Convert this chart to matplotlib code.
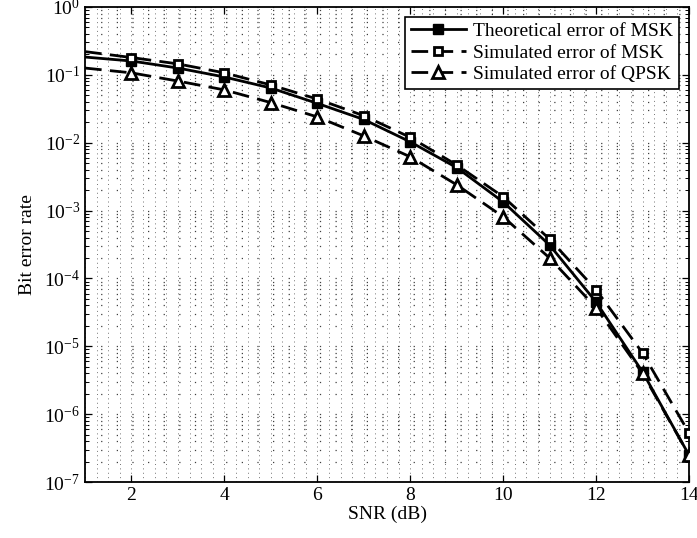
import matplotlib
matplotlib.use("Agg")
import matplotlib.pyplot as plt
from matplotlib.ticker import MultipleLocator, LogLocator, NullFormatter

plt.rcParams['font.family'] = ['Liberation Serif', 'DejaVu Serif']
plt.rcParams['mathtext.fontset'] = 'custom'
plt.rcParams['mathtext.rm'] = 'Liberation Serif'
plt.rcParams['mathtext.it'] = 'Liberation Serif:italic'
plt.rcParams['font.size'] = 14

# SNR axis (dB)
snr = [1, 2, 3, 4, 5, 6, 7, 8, 9, 10, 11, 12, 13, 14]

# bit error rates
ber_msk_theory = [0.183, 0.16, 0.126, 0.093, 0.064, 0.038, 0.022, 0.0103,
                  0.0043, 0.00134, 3.1e-4, 4.5e-5, 4.2e-6, 2.5e-7]
ber_msk_sim = [0.22, 0.18, 0.145, 0.107, 0.071, 0.044, 0.025, 0.012,
               0.0047, 0.0016, 3.8e-4, 6.8e-5, 8.0e-6, 5.3e-7]
ber_qpsk_sim = [0.126, 0.107, 0.081, 0.060, 0.039, 0.024, 0.0126, 0.0062,
                0.0024, 8.1e-4, 2.0e-4, 3.7e-5, 4.0e-6, 2.5e-7]

labels = ["Theoretical error of MSK", "Simulated error of MSK",
          "Simulated error of QPSK"]

fig = plt.figure(figsize=(6.97, 5.38), dpi=100)
ax = fig.add_axes([0.122, 0.104, 0.8665, 0.883])

marks = slice(1, None)
ax.semilogy(snr, ber_msk_theory, color='black', lw=2.0, ls='-',
            marker='s', ms=7.5, mfc='black', mec='black', markevery=marks,
            label=labels[0], zorder=3)
ax.semilogy(snr, ber_msk_sim, color='black', lw=2.0, ls='--', dashes=(6, 3),
            marker='s', ms=5.5, mfc='white', mec='black', mew=2.0,
            markevery=marks, label=labels[1], zorder=3)
ax.semilogy(snr, ber_qpsk_sim, color='black', lw=2.0, ls='--', dashes=(6, 3),
            marker='^', ms=8, mfc='white', mec='black', mew=2.0,
            markevery=marks, label=labels[2], zorder=3)

ax.set_xlim(1, 14)
ax.set_ylim(1e-7, 1)
ax.xaxis.set_major_locator(MultipleLocator(2))
ax.xaxis.set_minor_locator(MultipleLocator(0.25))
ax.yaxis.set_major_locator(LogLocator(base=10, numticks=20))
ax.yaxis.set_minor_locator(LogLocator(base=10, subs=range(2, 10), numticks=20))
ax.yaxis.set_minor_formatter(NullFormatter())

# sparse dotted grid like the printed MATLAB figure
ax.grid(True, axis='x', which='both', lw=0.7, color='black',
        dashes=(1, 3.5), alpha=0.55)
ax.grid(True, axis='y', which='both', lw=0.9, color='black',
        dashes=(1, 11.5), alpha=0.75)
ax.tick_params(which='both', direction='in', top=True, right=True)
ax.tick_params(which='major', length=5, width=0.9)
ax.tick_params(axis='y', which='minor', length=3, width=0.7)
ax.tick_params(axis='x', which='minor', length=0)
for sp in ax.spines.values():
    sp.set_linewidth(1.3)

ax.set_xlabel("SNR (dB)", labelpad=1)
ax.set_ylabel("Bit error rate", labelpad=6)

leg = ax.legend(loc='upper right', fancybox=False, framealpha=1,
                edgecolor='black', handlelength=2.8, borderpad=0.3,
                labelspacing=0.2, handletextpad=0.4, borderaxespad=0.5)
leg.get_frame().set_linewidth(1.2)

fig.savefig("out.png", dpi=100)
